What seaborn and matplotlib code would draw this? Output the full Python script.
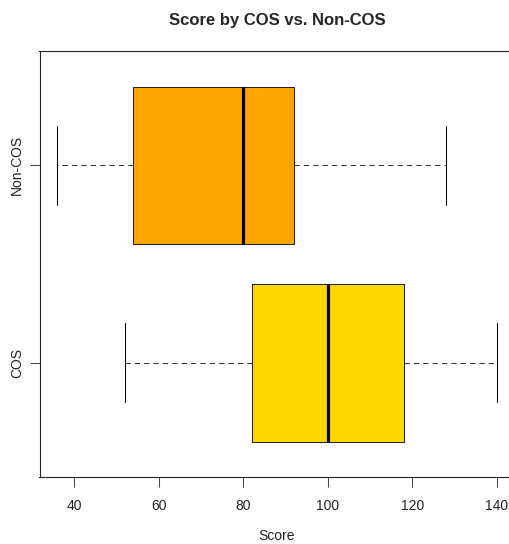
import matplotlib
matplotlib.use("Agg")
import matplotlib.pyplot as plt
import seaborn as sns
import pandas as pd

# Scores per group (five-number summaries)
groups = ["Non-COS", "COS"]
non_cos_scores = [36, 54, 80, 92, 128]
cos_scores = [52, 82, 100, 118, 140]
box_colors = ["#FFA500", "#FFD700"]
x_ticks = [40, 60, 80, 100, 120, 140]

df = pd.DataFrame({
    "Group": ["Non-COS"] * len(non_cos_scores) + ["COS"] * len(cos_scores),
    "Score": non_cos_scores + cos_scores,
})

sns.set_style("white")
plt.rcParams["font.family"] = ["Liberation Sans", "DejaVu Sans"]

W, H = 509, 544
fig = plt.figure(figsize=(W / 100, H / 100), dpi=100)
left, right_px, top_px, bottom_px = 39.5, 514.6, 51, 477
ax = fig.add_axes([left / W, (H - bottom_px) / H,
                   (right_px - left) / W, (bottom_px - top_px) / H])

sns.boxplot(
    data=df, x="Score", y="Group", hue="Group", order=groups, hue_order=groups,
    palette=box_colors, legend=False, width=0.8, whis=1.5, saturation=1,
    linecolor="#222222", linewidth=0.75, ax=ax,
    medianprops=dict(color="black", linewidth=2.3),
    whiskerprops=dict(color="#333333", linestyle=(0, (5, 4)), linewidth=0.75),
    capprops=dict(color="black", linewidth=0.75),
)

ax.set_xlim(31.84, 144.16)
ax.set_ylim(1.58, -0.58)
ax.set_xticks(x_ticks)
ax.set_xticklabels([str(t) for t in x_ticks])
ax.set_yticks([0, 1])
ax.set_yticklabels(groups, rotation=90, va="center")

ax.tick_params(axis="both", direction="out", length=7, width=0.75,
               color="#444444", labelsize=10, labelcolor="#222222",
               bottom=True, left=True)
ax.tick_params(axis="x", pad=9)
ax.tick_params(axis="y", pad=4)

for s in ax.spines.values():
    s.set_visible(True)
    s.set_color("#222222")
    s.set_linewidth(0.8)

ax.set_xlabel("Score", fontsize=10, color="#222222", labelpad=11)
ax.set_ylabel("")
ax.set_title("Score by COS vs. Non-COS", fontsize=12, fontweight="bold",
             pad=18.5)

fig.savefig("out.png", dpi=100)
